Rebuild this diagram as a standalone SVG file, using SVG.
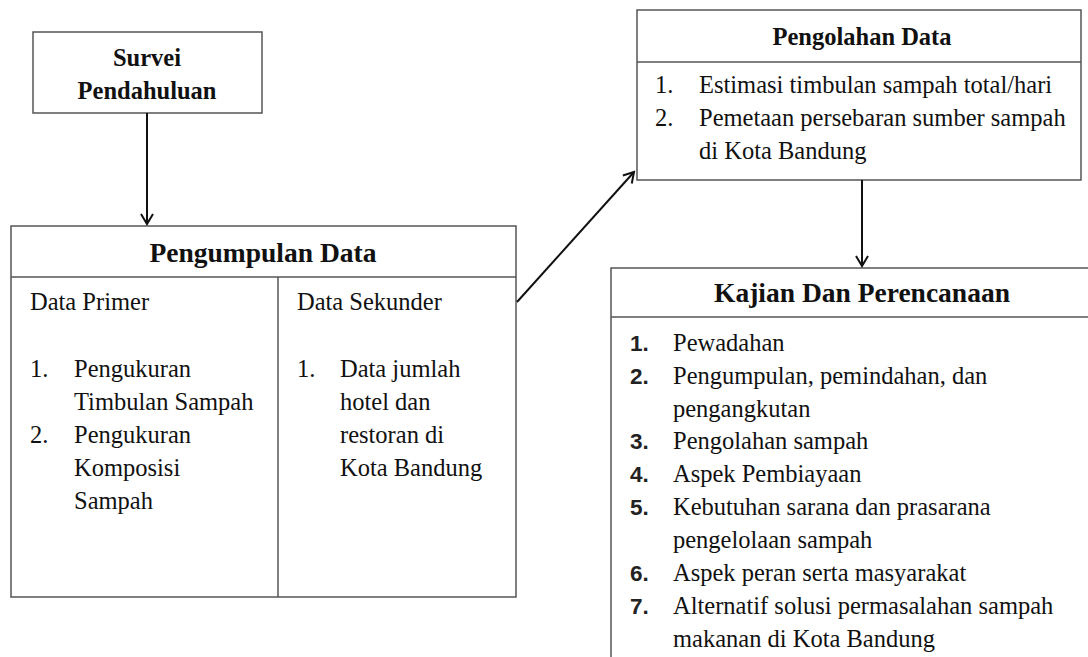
<svg xmlns="http://www.w3.org/2000/svg" width="1088" height="657" viewBox="0 0 1088 657">
<style>
.box{fill:#fff;stroke:#555;stroke-width:1.5}
.ln{stroke:#555;stroke-width:1.5;fill:none}
.t{font-family:"Liberation Serif",serif;font-size:24.5px;fill:#111}
.h{font-family:"Liberation Serif",serif;font-size:24.5px;font-weight:bold;fill:#111;text-anchor:middle}
.hb{font-size:27.5px}
.n{font-family:"Liberation Sans",sans-serif;font-size:22.5px;font-weight:bold;fill:#222}
.c{stroke:#111;stroke-width:2;fill:none}
</style>
<defs>
<marker id="ah" markerWidth="14" markerHeight="14" refX="11" refY="7" orient="auto" markerUnits="userSpaceOnUse">
<path d="M1,1 L11,7 L1,13" fill="none" stroke="#111" stroke-width="2"/>
</marker>
</defs>
<rect width="1088" height="657" fill="#fff"/>
<g id="survei">
<rect class="box" x="33" y="32" width="229" height="81"/>
<text class="h" x="147" y="66">Survei</text>
<text class="h" x="147" y="99">Pendahuluan</text>
</g>
<g id="pengumpulan">
<rect class="box" x="11" y="226" width="505" height="371"/>
<line class="ln" x1="11" y1="277" x2="516" y2="277"/>
<line class="ln" x1="278" y1="277" x2="278" y2="597"/>
<text class="h hb" x="263" y="262">Pengumpulan Data</text>
<text class="t" x="30" y="310">Data Primer</text>
<text class="t" x="30" y="377">1.</text>
<text class="t" x="74" y="377">Pengukuran</text>
<text class="t" x="74" y="410">Timbulan Sampah</text>
<text class="t" x="30" y="443">2.</text>
<text class="t" x="74" y="443">Pengukuran</text>
<text class="t" x="74" y="476">Komposisi</text>
<text class="t" x="74" y="509">Sampah</text>
<text class="t" x="297" y="310">Data Sekunder</text>
<text class="t" x="297" y="377">1.</text>
<text class="t" x="340" y="377">Data jumlah</text>
<text class="t" x="340" y="410">hotel dan</text>
<text class="t" x="340" y="443">restoran di</text>
<text class="t" x="340" y="476">Kota Bandung</text>
</g>
<g id="pengolahan">
<rect class="box" x="637" y="10" width="444" height="170"/>
<line class="ln" x1="637" y1="62" x2="1081" y2="62"/>
<text class="h" x="862" y="45">Pengolahan Data</text>
<text class="t" x="655" y="93">1.</text>
<text class="t" x="699" y="93">Estimasi timbulan sampah total/hari</text>
<text class="t" x="655" y="126">2.</text>
<text class="t" x="699" y="126">Pemetaan persebaran sumber sampah</text>
<text class="t" x="699" y="159">di Kota Bandung</text>
</g>
<g id="kajian">
<rect class="box" x="611" y="268" width="485" height="400"/>
<line class="ln" x1="611" y1="317" x2="1088" y2="317"/>
<text class="h hb" x="862" y="302">Kajian Dan Perencanaan</text>
<text class="n" x="630" y="351">1.</text>
<text class="t" x="673" y="351">Pewadahan</text>
<text class="n" x="630" y="384">2.</text>
<text class="t" x="673" y="384">Pengumpulan, pemindahan, dan</text>
<text class="t" x="673" y="417">pengangkutan</text>
<text class="n" x="630" y="449">3.</text>
<text class="t" x="673" y="449">Pengolahan sampah</text>
<text class="n" x="630" y="482">4.</text>
<text class="t" x="673" y="482">Aspek Pembiayaan</text>
<text class="n" x="630" y="515">5.</text>
<text class="t" x="673" y="515">Kebutuhan sarana dan prasarana</text>
<text class="t" x="673" y="548">pengelolaan sampah</text>
<text class="n" x="630" y="581">6.</text>
<text class="t" x="673" y="581">Aspek peran serta masyarakat</text>
<text class="n" x="630" y="614">7.</text>
<text class="t" x="673" y="614">Alternatif solusi permasalahan sampah</text>
<text class="t" x="673" y="647">makanan di Kota Bandung</text>
</g>
<g id="connectors">
<line class="c" x1="147" y1="113" x2="147" y2="224" marker-end="url(#ah)"/>
<line class="c" x1="517" y1="302" x2="634" y2="172" marker-end="url(#ah)"/>
<line class="c" x1="862" y1="180" x2="862" y2="266" marker-end="url(#ah)"/>
</g>
</svg>
